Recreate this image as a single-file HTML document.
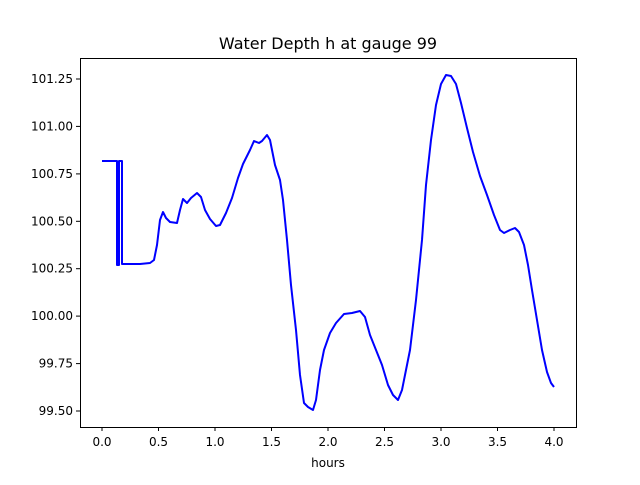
<!DOCTYPE html><html><head><style>body{margin:0;background:#fff}</style></head><body>
<svg width="640" height="480" xmlns="http://www.w3.org/2000/svg" font-family="DejaVu Sans, sans-serif">
<rect width="640" height="480" fill="#fff"/>
<text x="328" y="49" font-size="16" text-anchor="middle">Water Depth h at gauge 99</text>
<polyline fill="none" stroke="#0000ff" stroke-width="2" stroke-linejoin="round" points="102,161 117,161 117,265 119,265 119,161 122,161 122,264 140,264 150,263 154,260 157,245 160,220 163,212 166,218 170,222 177,223 180,210 183,199 187,203 191,198 197,193 201,197 205,210 210,219 216,226 220,225 226,213 232,198 238,178 243,164 250,150 254,141 259,143 262,141 267,135 270,140 275,165 280,180 283,200 287,240 291,285 296,330 300,375 304,403 308,407 313,410 316,400 320,370 324,350 330,333 336,323 344,314 352,313 360,311 365,317 370,335 376,350 382,365 388,385 393,395 398,400 402,390 405,375 410,350 416,300 422,240 426,185 431,140 436,105 441,84 446,75 451,76 456,84 461,103 467,128 473,152 480,176 487,195 494,215 500,230 504,233 510,230 515,228 519,232 524,245 528,265 532,290 537,320 542,350 547,372 551,383 554,387"/>
<rect x="80.5" y="58.5" width="496" height="369" fill="none" stroke="#000" stroke-width="1"/>
<g stroke="#000">
<line x1="102" y1="428" x2="102" y2="431"/><line x1="158.5" y1="428" x2="158.5" y2="431"/><line x1="215" y1="428" x2="215" y2="431"/><line x1="271.5" y1="428" x2="271.5" y2="431"/><line x1="328" y1="428" x2="328" y2="431"/><line x1="384.5" y1="428" x2="384.5" y2="431"/><line x1="441" y1="428" x2="441" y2="431"/><line x1="497.5" y1="428" x2="497.5" y2="431"/><line x1="554" y1="428" x2="554" y2="431"/>
<line x1="76" y1="79" x2="80" y2="79"/><line x1="76" y1="126.4" x2="80" y2="126.4"/><line x1="76" y1="173.9" x2="80" y2="173.9"/><line x1="76" y1="221.3" x2="80" y2="221.3"/><line x1="76" y1="268.7" x2="80" y2="268.7"/><line x1="76" y1="316.1" x2="80" y2="316.1"/><line x1="76" y1="363.6" x2="80" y2="363.6"/><line x1="76" y1="411" x2="80" y2="411"/>
</g>
<g font-size="12" text-anchor="middle">
<text x="102" y="446">0.0</text><text x="158.5" y="446">0.5</text><text x="215" y="446">1.0</text><text x="271.5" y="446">1.5</text><text x="328" y="446">2.0</text><text x="384.5" y="446">2.5</text><text x="441" y="446">3.0</text><text x="497.5" y="446">3.5</text><text x="554" y="446">4.0</text>
<text x="328" y="467">hours</text>
</g>
<g font-size="12" text-anchor="end">
<text x="73" y="83">101.25</text><text x="73" y="130.4">101.00</text><text x="73" y="177.9">100.75</text><text x="73" y="225.3">100.50</text><text x="73" y="272.7">100.25</text><text x="73" y="320.1">100.00</text><text x="73" y="367.6">99.75</text><text x="73" y="415">99.50</text>
</g>
</svg>
</body></html>
